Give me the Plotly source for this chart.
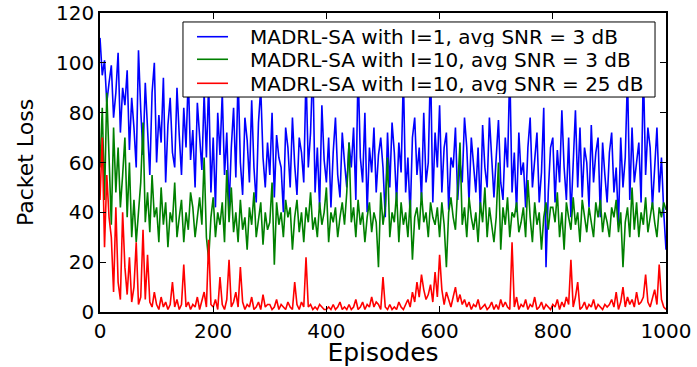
import plotly.graph_objects as go

episodes = list(range(0, 1001, 4))

blue_vals = [
    110, 95, 101, 84, 92, 99, 78, 88, 104, 72, 90, 83, 97, 65, 86, 74, 58, 105, 81, 63, 92, 70, 55, 88, 100,
    60, 79, 68, 94, 52, 75, 86, 64, 58, 90, 71, 55, 82, 66, 95, 61, 73, 50, 84, 69, 57, 88, 62, 92, 48,
    70, 42, 80, 63, 88, 55, 72, 41, 66, 82, 54, 95, 60, 47, 78, 69, 52, 85, 58, 44, 76, 90, 62, 50, 68,
    55, 80, 46, 71, 62, 58, 40, 74, 66, 50, 78, 59, 47, 70, 64, 52, 96, 58, 72, 100, 48, 66, 42, 83, 61,
    52, 70, 42, 64, 78, 55, 46, 72, 60, 50, 68, 58, 74, 45, 98, 62, 52, 80, 40, 66, 56, 74, 48, 63, 70,
    58, 38, 72, 50, 76, 64, 44, 68, 56, 95, 48, 62, 38, 70, 78, 55, 66, 45, 80, 52, 60, 100, 44, 72, 58,
    83, 48, 66, 72, 41, 62, 58, 74, 45, 60, 52, 78, 66, 44, 70, 60, 48, 66, 40, 75, 58, 50, 78, 62, 46,
    62, 77, 52, 45, 70, 58, 98, 48, 64, 40, 72, 55, 60, 42, 66, 78, 50, 60, 72, 44, 56, 82, 18, 48, 66,
    70, 44, 65, 52, 81, 58, 45, 70, 38, 62, 81, 50, 74, 46, 66, 60, 42, 75, 52, 64, 70, 38, 68, 55, 44,
    64, 72, 48, 58, 35, 70, 50, 62, 95, 45, 74, 52, 60, 68, 44, 98, 55, 74, 66, 42, 58, 74, 48, 62, 40,
    25,
]

green_vals = [
    58, 82, 45, 88, 62, 35, 74, 48, 66, 42, 55, 70, 38, 60, 30, 45, 28, 40, 52, 76, 36, 48, 32, 55, 38,
    42, 28, 50, 35, 44, 26, 40, 36, 52, 30, 38, 45, 28, 40, 33, 48, 42, 30, 38, 46, 35, 62, 30, 21, 38,
    46, 30, 40, 35, 44, 28, 57, 36, 50, 32, 40, 28, 45, 33, 38, 25, 42, 35, 48, 30, 36, 44, 27, 40, 33,
    36, 52, 19, 44, 35, 40, 30, 45, 38, 42, 25, 38, 45, 32, 40, 28, 42, 36, 48, 33, 38, 30, 44, 35, 40,
    50, 28, 40, 36, 42, 30, 38, 44, 35, 48, 68, 36, 42, 30, 45, 35, 40, 28, 38, 44, 32, 40, 36, 18, 48,
    35, 42, 62, 30, 40, 36, 48, 28, 44, 35, 40, 30, 45, 21, 38, 42, 33, 48, 36, 40, 30, 44, 38, 35, 42,
    30, 44, 35, 18, 40, 46, 38, 33, 50, 68, 35, 42, 30, 46, 38, 33, 40, 28, 44, 36, 50, 30, 42, 35, 28,
    38, 60, 25, 42, 35, 46, 30, 40, 38, 44, 32, 36, 42, 30, 53, 38, 28, 44, 35, 40, 25, 38, 44, 33, 42,
    42, 36, 48, 30, 40, 25, 44, 38, 33, 46, 35, 40, 28, 45, 38, 32, 42, 36, 30, 44, 38, 45, 32, 40, 36,
    30, 42, 38, 45, 32, 40, 18, 36, 42, 30, 50, 33, 44, 30, 40, 35, 46, 32, 38, 44, 36, 30, 42, 38, 44,
    41,
]

red_vals = [
    45, 70, 26, 55, 38, 30, 8, 42, 12, 5, 40, 18, 7, 22, 4, 10, 28, 3, 6, 33, 5, 23, 4, 2, 8,
    3, 1, 6, 2, 4, 1, 3, 12, 2, 5, 1, 3, 19, 2, 4, 1, 3, 2, 6, 1, 4, 8, 2, 29, 3,
    2, 5, 1, 14, 3, 1, 5, 21, 2, 4, 8, 2, 18, 4, 1, 3, 2, 6, 1, 2, 4, 1, 7, 2, 3,
    3, 1, 2, 5, 1, 3, 2, 1, 4, 2, 1, 12, 3, 1, 4, 2, 22, 2, 3, 1, 2, 1, 3, 2, 1,
    1, 2, 1, 3, 1, 2, 4, 1, 2, 1, 3, 1, 2, 5, 1, 2, 4, 1, 3, 2, 6, 2, 4, 3, 1,
    14, 2, 1, 3, 1, 2, 1, 4, 2, 1, 3, 5, 2, 8, 4, 12, 6, 15, 9, 5, 7, 11, 4, 16, 6,
    23, 9, 3, 8, 5, 2, 6, 10, 4, 7, 3, 5, 2, 4, 1, 3, 2, 5, 1, 2, 3, 1, 2, 4, 1,
    3, 1, 5, 2, 4, 2, 1, 28, 2, 6, 1, 3, 2, 5, 1, 3, 2, 6, 1, 2, 4, 1, 3, 2, 1,
    3, 2, 5, 1, 4, 2, 6, 3, 21, 2, 6, 12, 1, 2, 4, 1, 3, 2, 5, 1, 3, 2, 1, 3, 2,
    3, 5, 2, 8, 1, 4, 10, 2, 6, 3, 5, 2, 8, 3, 4, 6, 15, 4, 2, 6, 9, 3, 19, 5, 2,
    1,
]

series_names = [
    "MADRL-SA with I=1, avg SNR = 3 dB",
    "MADRL-SA with I=10, avg SNR = 3 dB",
    "MADRL-SA with I=10, avg SNR = 25 dB",
]
series_colors = ["#0000ff", "#008000", "#ff0000"]
x_ticks = [0, 200, 400, 600, 800, 1000]
y_ticks = [0, 20, 40, 60, 80, 100, 120]

fig = go.Figure()
for name, vals, col in zip(series_names, [blue_vals, green_vals, red_vals], series_colors):
    fig.add_trace(go.Scatter(x=episodes, y=vals, mode="lines", name=name,
                             line=dict(color=col, width=1.6), showlegend=False))

font_family = "DejaVu Sans"
axis_common = dict(
    showline=True, linecolor="black", linewidth=1.5, mirror="ticks",
    ticks="inside", ticklen=6, tickwidth=1, tickcolor="black",
    showgrid=False, zeroline=False, automargin=False,
    tickfont=dict(family=font_family, size=20, color="black"),
)
fig.update_xaxes(range=[0, 1000], tickvals=x_ticks,
                 title=dict(text="Episodes", font=dict(family=font_family, size=25, color="black"), standoff=2),
                 **axis_common)
fig.update_yaxes(range=[0, 120], tickvals=y_ticks,
                 title=dict(text="Packet Loss", font=dict(family=font_family, size=22, color="black"), standoff=16),
                 **axis_common)

# Legend drawn as a box with sample lines and text labels (paper coordinates)
box = dict(x0=0.1466, x1=0.9806, y0=0.719, y1=0.970)
row_y = [0.9207, 0.8452, 0.7649]
shapes = [dict(type="rect", xref="paper", yref="paper", layer="above",
               fillcolor="white", line=dict(color="black", width=1), **box)]
annotations = []
for name, col, yy in zip(series_names, series_colors, row_y):
    shapes.append(dict(type="line", xref="paper", yref="paper", layer="above",
                       x0=0.1714, x1=0.2261, y0=yy, y1=yy, line=dict(color=col, width=1.6)))
    annotations.append(dict(text=name, xref="paper", yref="paper", x=0.2633, y=yy,
                            xanchor="left", yanchor="middle", showarrow=False,
                            height=21, borderpad=0,
                            font=dict(family=font_family, size=20, color="black")))

fig.update_layout(
    width=697, height=367,
    margin=dict(l=100, r=31, t=13, b=55),
    plot_bgcolor="white", paper_bgcolor="white",
    font=dict(family=font_family),
    showlegend=False,
    shapes=shapes,
    annotations=annotations,
)

fig.write_html("out.html")
